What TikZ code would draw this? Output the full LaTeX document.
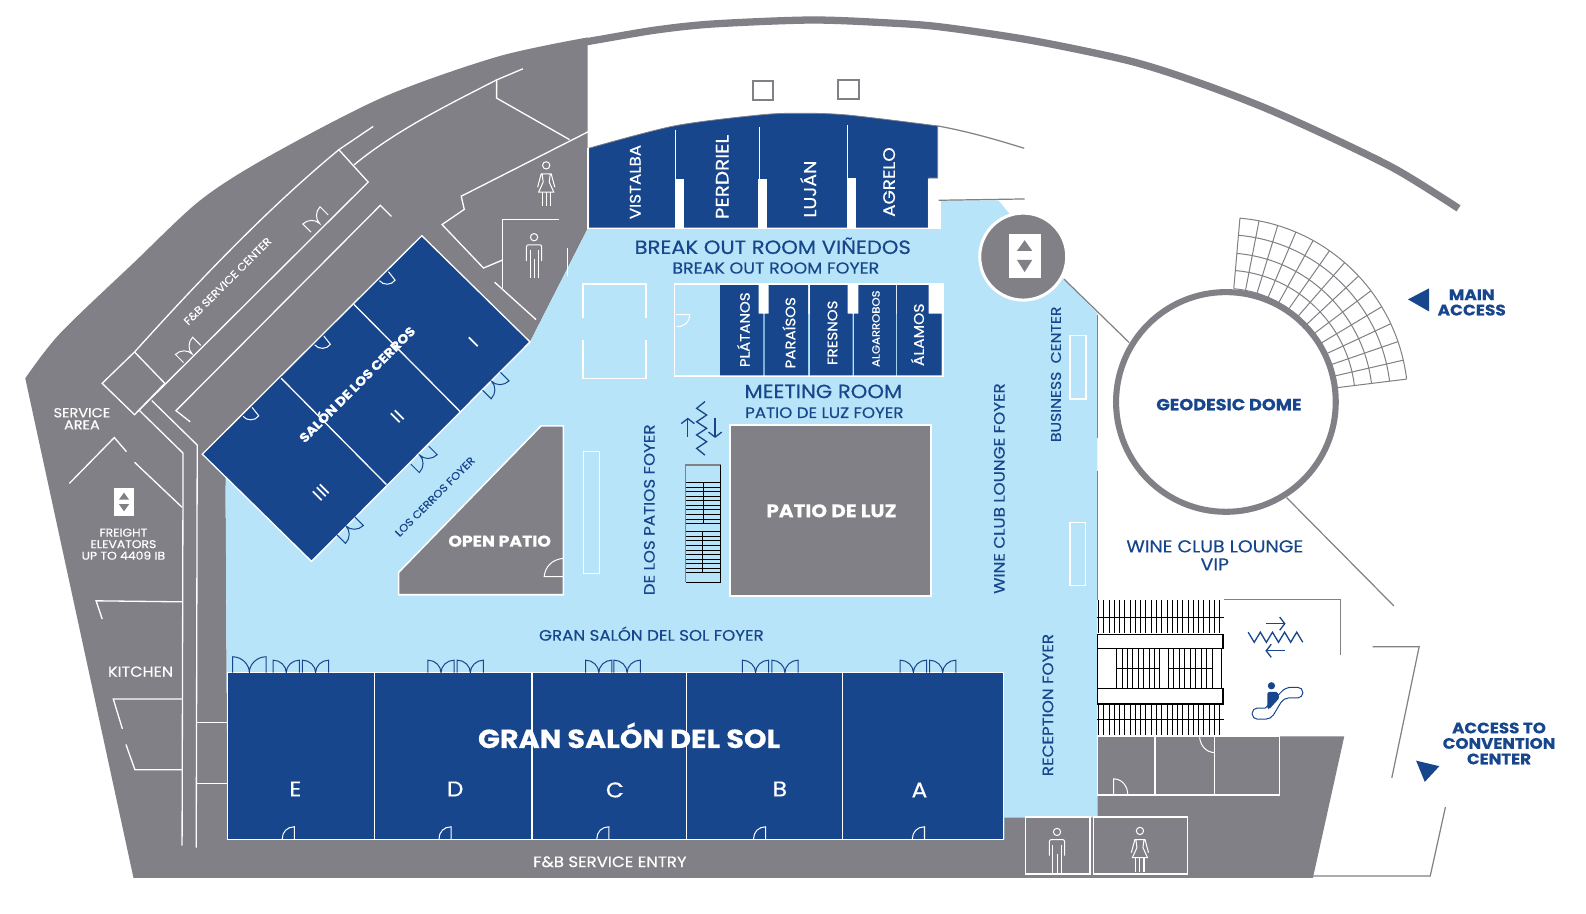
\documentclass[tikz,border=0pt]{standalone}
\usepackage{fontspec}
\setmainfont[FakeStretch=1.1,BoldFeatures={FakeBold=0.5}]{Poppins}
\newfontfamily\medfont[FakeStretch=1.1,FakeBold=0.45]{Poppins}
\newcommand{\medsize}[2][1.05]{\medfont\fontsize{#2}{#1\dimexpr#2pt\relax}\selectfont}
\newcommand{\heavysize}[2][1.05]{\bfseries\fontsize{#2}{#1\dimexpr#2pt\relax}\selectfont}
\usetikzlibrary{arrows.meta}
\definecolor{wallgray}{HTML}{808086}
\definecolor{roomblue}{HTML}{17468C}
\definecolor{foyerblue}{HTML}{B8E4F9}
\tikzset{
  wall/.style={draw=white,line width=1.3pt},
  gline/.style={draw=wallgray,line width=1.2pt},
  room/.style={fill=roomblue},
  rlabel/.style={text=white,font=\medsize{15},rotate=90,inner sep=0pt},
  flabel/.style={text=roomblue,font=\medsize{15},inner sep=0pt,align=center},
  wlabel/.style={text=white,font=\medsize{13},inner sep=0pt,align=center},
  hlabel/.style={text=white,font=\heavysize{15.5},inner sep=0pt,align=center},
  dlabel/.style={text=roomblue,font=\heavysize{15.5},inner sep=0pt,align=center},
  wing/.style={text=white,font=\fontsize{18}{18}\selectfont,rotate=45,inner sep=0pt},
  stairline/.style={draw=black,line width=0.9pt},
  pics/doubledoor/.style={code={
    \draw[pic actions] (-#1,0) -- (-#1,-0.95*#1) .. controls (-0.45*#1,-0.95*#1) and (0,-0.5*#1) .. (0,0)
      .. controls (0,-0.5*#1) and (0.45*#1,-0.95*#1) .. (#1,-0.95*#1) -- (#1,0);}},
  pics/floordoor/.style={code={
    \draw[wall,line width=1pt] (0,0) -- (0,-12) .. controls (-7,-12) and (-12,-7) .. (-12,0);}},
  pics/manicon/.style={code={
    \draw[wall,line width=1pt] (0,-18.5) circle (3.6);
    \draw[wall,line width=1pt,rounded corners=2] (-7.5,5) -- (-7.5,-11) -- (7.5,-11) -- (7.5,5);
    \draw[wall,line width=1pt] (-4,-6) -- (-4,22) (0,3) -- (0,22) (4,-6) -- (4,22);}},
  pics/womanicon/.style={code={
    \draw[wall,line width=1pt] (0,-18.5) circle (3.6);
    \draw[wall,line width=1pt] (-8.5,3) -- (-5,-10) -- (5,-10) -- (8.5,3) (-4,-10) -- (-3,-2) -- (-7.5,8) -- (7.5,8) -- (3,-2) -- (4,-10);
    \draw[wall,line width=1pt] (-4,8) -- (-4,22) (0,8) -- (0,22) (4,8) -- (4,22);}}
}
\begin{document}
\begin{tikzpicture}[x=1pt,y=-1pt]
\useasboundingbox (0,0) rectangle (1568,903.6);
% building
\fill[wallgray] (25,374) plot[smooth] coordinates {(25,374) (59,330) (132,260) (198,198) (265,155) (379,96) (492,56) (581,37)}
  -- (581,226) -- (524,338) -- (223,480) -- (225,830) -- (993,808) -- (1085,808) -- (1085,728)
  -- (1329,728) -- (1298,868) -- (132,868) -- cycle;
\draw[wallgray,line width=7.2pt] plot[smooth] coordinates {(576,42) (593,39) (649,29.6) (705,23.7) (801,19.8) (873,22.4) (929,26.5) (1020,40) (1117,60.3) (1183,81) (1249,106) (1315,135.5) (1381,168) (1442,206)};
% foyers
\fill[foyerblue] (581,226) -- (930,226) -- (930,198) -- (987,198) -- (1052,276) -- (1085,310) -- (1085,808)
  -- (993,808) -- (993,830) -- (225,830) -- (223,470) -- (300,500) -- (524,338) -- cycle;
% service walls
\draw[wall] (517,68) -- (491,79) .. controls (440,105) and (390,130) .. (350,163);
\draw[wall] (491,79) -- (491,97) -- (563,138);
\draw[wall] (582,130) -- (456,194) -- (459,207) -- (437,222) -- (478,265) -- (497,257);
\draw[wall] (553,217) -- (497,217) -- (497,285);
\draw[wall] (489,279) -- (530,316);
\draw[wall] (561,245) -- (561,273);
\draw[wall] (369,125) -- (335,148) -- (364,180) -- (136,407);
\draw[wall] (335,148) .. controls (260,210) and (190,285) .. (133,348) -- (101,379) -- (133,410) -- (163,379);
\draw[wall] (133,348) -- (163,379);
\draw[wall] (387,214) -- (376,203) -- (174,406) -- (188,417);
\draw[wall] (150,396) -- (195,440) -- (194,838);
\draw[wall] (138,406) -- (181,448) -- (180,836);
\draw[wall] (68.5,478) -- (113,432.6) -- (125,446.5);
\draw[wall] (133,457) -- (180,501.5);
\draw[wall] (101,612) -- (95,594) -- (180,595);
\draw[wall] (121,720.6) -- (112,691) -- (180,691);
\draw[wall] (124.5,736) -- (133.4,761) -- (180,761);
\draw[wall] (194.4,714) -- (225,714);
\draw[wall] (194.4,774.3) -- (225,774.3);
\pic[draw=white,line width=1pt,rotate=45] at (316,221) {doubledoor=12};
\pic[draw=white,line width=1pt,rotate=45] at (190,350) {doubledoor=12};
% freight elevator
\fill[white] (112.7,482.7) rectangle (132.8,510);
\fill[wallgray] (122.6,487) -- (127.6,494) -- (117.6,494) -- cycle;
\fill[wallgray] (122.6,505.5) -- (127.6,498.5) -- (117.6,498.5) -- cycle;
% salon de los cerros
\filldraw[room,wall] (417,233) -- (524,338) -- (308,555) -- (200,449) -- cycle;
\draw[wall] (350,301) -- (455,407);
\draw[wall] (278,374) -- (382,479);
\foreach \hx/\hy in {384/268.6,320/332,249.2/402.7}
  \draw[wall,line width=1pt] (\hx,\hy) -- ++(6.6,8.4) to[bend left=55] ++(-15.5,0.5);
\pic[draw=roomblue,line width=1pt,rotate=-135] at (486,377) {doubledoor=12.5};
\pic[draw=roomblue,line width=1pt,rotate=-135] at (415,450) {doubledoor=12.5};
\pic[draw=roomblue,line width=1pt,rotate=-135] at (342,520) {doubledoor=12.5};
% break out rooms
\filldraw[room,draw=wallgray,line width=0.8pt] (582,146.6) plot[smooth] coordinates {(582,146.6) (666.7,124.5) (750.8,113.7) (790,112) (837.8,113.7) (927,124.5)}
  -- (927,176) -- (917.7,176) -- (917.7,225) -- (582,225) -- cycle;
\fill[white] (917.7,176.5) rectangle (928,226);
\draw[white,line width=1.5pt] (581.5,146) -- (581.5,226) -- (930,226) -- (930,198);
\fill[white] (667,176.6) rectangle (676.5,226);
\fill[white] (749.6,176.6) rectangle (758.5,226);
\fill[white] (837,175.6) rectangle (846,226);
\draw[white,line width=1.2pt] (667.5,128.5) -- (667.5,178);
\draw[white,line width=1.2pt] (750.5,126) -- (750.5,178);
\draw[white,line width=1.2pt] (837.5,123.6) -- (837.5,178);
\draw[gline] (927,124.5) .. controls (957,130) and (985,138) .. (1012.6,146.6);
\draw[gline] (928,198) -- (1013,196.7);
\draw[wallgray,line width=2pt] (744,80) rectangle (764.5,99);
\draw[wallgray,line width=2pt] (828.4,79) rectangle (849,98);
% meeting rooms
\draw[white,line width=1.5pt] (666.6,280.7) rectangle (932.5,371.5);
\fill[white] (712,282) rectangle (932,310);
\fill[room] (712,282) -- (750,282) -- (750,310) -- (754.6,310) -- (754.6,371) -- (712,371) -- cycle;
\fill[room] (760,282) -- (799,282) -- (799,371) -- (756,371) -- (756,310) -- (760,310) -- cycle;
\fill[room] (801,282) -- (838,282) -- (838,310) -- (843,310) -- (843,371) -- (801,371) -- cycle;
\fill[room] (848.5,282) -- (886,282) -- (886,371) -- (844.5,371) -- (844.5,310) -- (848.5,310) -- cycle;
\fill[room] (887,282) -- (918,282) -- (918,310) -- (931,310) -- (931,371) -- (887,371) -- cycle;
\draw[white,line width=1pt] (669,323) .. controls (677,323) and (682,318) .. (682,311) -- (668,311);
\draw[white,line width=1.5pt] (576.5,314.7) -- (576.5,280.7) -- (638.6,280.7) -- (638.6,314.7);
\draw[white,line width=1.5pt] (576.5,336) -- (576.5,374) -- (638.6,374) -- (638.6,336);
% patios
\filldraw[wallgray,draw=white,line width=1.5pt] (535,421) -- (557,421) -- (557,588) -- (394,588) -- (394,566) -- cycle;
\draw[white,line width=1pt] (557,570) -- (538,570) .. controls (539,560) and (546,553) .. (557,552);
\filldraw[wallgray,draw=white,line width=2pt] (721.6,420) rectangle (920.5,589);
\draw[white,line width=1.5pt] (576.7,446.5) rectangle (592.5,567);
\draw[white,line width=1.5pt] (1058,331.8) rectangle (1073.6,394.7);
\draw[white,line width=1.5pt] (1057.8,516.7) rectangle (1073,579);
% center stairs
\draw[wallgray,line width=1.2pt] (678,575.7) -- (678,459.7) -- (712.4,459.7);
\draw[stairline] (712.4,459.7) -- (712.4,575.7) -- (678,575.7);
\foreach \sy in {0,1,...,9} {
  \draw[stairline,line width=0.6pt] (678,477+\sy*4.5) -- (712.4,477+\sy*4.5);
  \draw[stairline,line width=0.6pt] (678,525.6+\sy*4.5) -- (712.4,525.6+\sy*4.5);
}
\draw[stairline] (695.6,477) -- (695.6,517.4);
\draw[stairline] (694.6,525.6) -- (694.6,566);
\draw[roomblue,line width=1.3pt] (697,397) -- (688.7,403.7) -- (698.6,410.3) -- (688.7,417) -- (698.6,423.5) -- (688.7,430) -- (698.6,436.7) -- (688.7,443.3) -- (697,450);
\draw[roomblue,line width=1.3pt,-{Straight Barb[length=5pt,width=13pt]}] (680,432) -- (680,413);
\draw[roomblue,line width=1.3pt,-{Straight Barb[length=5pt,width=13pt]}] (707,413) -- (707,433);
% lobby stairs
\foreach \sx in {0,1,...,23} {
  \draw[stairline,line width=0.7pt] (1086+\sx*5.2,593) -- (1086+\sx*5.2,626);
  \draw[stairline,line width=0.7pt] (1086+\sx*5.2,696) -- (1086+\sx*5.2,727);
}
\foreach \sx in {0,1,...,8} {
  \draw[stairline,line width=0.7pt] (1104+\sx*5.3,642) -- (1104+\sx*5.3,681);
  \draw[stairline,line width=0.7pt] (1155+\sx*5.4,642) -- (1155+\sx*5.4,681);
}
\draw[stairline] (1085,610) -- (1210,610);
\draw[stairline] (1085,711.6) -- (1210,711.6);
\draw[stairline] (1104,661) -- (1146.4,661);
\draw[stairline] (1155,661) -- (1198.5,661);
\draw[stairline,line width=1.2pt] (1085,627) rectangle (1209,641.5);
\draw[stairline,line width=1.2pt] (1085,681) rectangle (1209,696);
\draw[stairline] (1085,641.5) -- (1085,681);
\draw[stairline] (1208,641.5) -- (1208,681);
\draw[roomblue,line width=1.3pt] (1234,625) -- (1240,635) -- (1246,625) -- (1252,635) -- (1258,625) -- (1264,635) -- (1270,625) -- (1276,635) -- (1282,625) -- (1288,635);
\draw[roomblue,line width=1.3pt,-{Straight Barb[length=5pt,width=13pt]}] (1252,616.6) -- (1271,616.6);
\draw[roomblue,line width=1.3pt,-{Straight Barb[length=5pt,width=13pt]}] (1270,643.4) -- (1251,643.4);
\draw[roomblue,line width=1pt,rounded corners=5] (1251,700) -- (1238,700) -- (1238,711) -- (1256.5,711) -- (1269,690) -- (1288,690) -- (1288,679.5) -- (1271.3,679.5) -- (1251,700);
\fill[roomblue] (1257,678) circle (3.6);
\fill[roomblue,rounded corners=1.5] (1253,684) -- (1263,684) -- (1265,690) -- (1255,701) -- (1253,701) -- cycle;
% gran salon
\filldraw[room,wall] (225,665) rectangle (992,830);
\foreach \wx in {370,526,679,833}
  \draw[wall] (\wx,665) -- (\wx,830);
\foreach \dx in {291,446,602,757,914}
  \pic at (\dx,829.4) {floordoor};
\pic[draw=roomblue,line width=1pt] at (246.5,665) {doubledoor=16.5};
\foreach \dx in {283,312,436,465,592,620,747,776,903,932}
  \pic[draw=roomblue,line width=1pt] at (\dx,665) {doubledoor=13};
% reception rooms
\draw[wall] (1085,728) -- (1085,786) -- (1265,786) -- (1265,728) -- (1085,728);
\draw[wall] (1142,728) -- (1142,786);
\draw[wall] (1201,728) -- (1201,786);
\draw[wall,line width=1pt] (1101,786) -- (1101,770) .. controls (1109,770) and (1115,777) .. (1115,786) -- cycle;
\draw[wall,line width=1pt] (1186,729) .. controls (1187,738) and (1193,744) .. (1201,744);
\draw[wall] (1013.6,807.6) rectangle (1077.7,864);
\draw[wall] (1081,807.6) rectangle (1174,864);
\pic at (1045,841) {manicon};
\pic at (1127,840) {womanicon};
\pic at (528,253) {manicon};
\pic at (540,182) {womanicon};
% dome
\draw[gline] (1052,276) -- (1116.4,338.7);
\draw[gline] (1272,492) -- (1378,599);
\draw[gline] (1085,311) -- (1085,433);
\draw[gline] (1085,466) -- (1085,593);
\draw[wallgray,line width=1.2pt] (1210,593) -- (1325,593) -- (1325,648);
\draw[gline] (1357,639.5) -- (1403,639.5) -- (1376,769);
\draw[gline] (1429,798) -- (1414,866) -- (1298,866);
\foreach \fr in {112,130,147,165,182}
  \draw[gline,line width=1pt] (1210,397) ++(-7:\fr) arc (-7:-85:\fr);
\foreach \fa in {7,13,...,85}
  \draw[gline,line width=1pt] (1210,397) ++(-\fa:112) -- ++(-\fa:70);
\draw[wallgray,line width=6pt] (1212,397.4) circle (108.6);
% elevator
\filldraw[wallgray,draw=white,line width=3pt] (1011.6,253.7) circle (43);
\fill[white] (998,231) rectangle (1029,274.5);
\fill[wallgray] (1013,237.5) -- (1020.5,248) -- (1005.5,248) -- cycle;
\fill[wallgray] (1013,269) -- (1020.5,257) -- (1005.5,257) -- cycle;
% access marks
\fill[roomblue] (1392,296) -- (1413,285) -- (1413,308) -- cycle;
\fill[roomblue] (1400,752) -- (1423,757.5) -- (1408.6,773) -- cycle;
% labels
\node[rlabel] (vistalba) at (628,180) {VISTALBA};
\node[rlabel,font=\medsize{18}] (perdriel) at (714,175) {PERDRIEL};
\node[rlabel,font=\medsize{17}] (lujan) at (799,187) {LUJÁN};
\node[rlabel,font=\medsize{16.5}] (agrelo) at (879,180) {AGRELO};
\node[rlabel,font=\medsize{13.5}] (platanos) at (735,326) {PLÁTANOS};
\node[rlabel,font=\medsize{13.5}] (paraisos) at (780,329) {PARAÍSOS};
\node[rlabel,font=\medsize{13.5}] (fresnos) at (823,329) {FRESNOS};
\node[rlabel,font=\medsize{10.5}] (algarrobos) at (866,325) {ALGARROBOS};
\node[rlabel,font=\medsize{14}] (alamos) at (907,331) {ÁLAMOS};
\node[flabel,font=\medsize{19}] (vinedos) at (764,243) {BREAK OUT ROOM VIÑEDOS};
\node[flabel,font=\medsize{15.7}] (breakfoyer) at (767,265) {BREAK OUT ROOM FOYER};
\node[flabel,font=\medsize{19}] (meeting) at (814,387) {MEETING ROOM};
\node[flabel] (luzfoyer) at (815,408) {PATIO DE LUZ FOYER};
\node[hlabel,font=\heavysize{18}] (patioluz) at (822,505) {PATIO DE LUZ};
\node[hlabel] (openpatio) at (494,535) {OPEN PATIO};
\node[flabel] (solfoyer) at (644,626.5) {GRAN SALÓN DEL SOL FOYER};
\node[hlabel,font=\heavysize{25.8}] (gransalon) at (622,727) {GRAN SALÓN DEL SOL};
\node[hlabel,font=\medsize{21}] (roome) at (292,780) {E};
\node[hlabel,font=\medsize{21}] (roomd) at (450,780) {D};
\node[hlabel,font=\medsize{21}] (roomc) at (608,781) {C};
\node[hlabel,font=\medsize{21}] (roomb) at (771,780) {B};
\node[hlabel,font=\medsize{21}] (rooma) at (909,781) {A};
\node[wlabel,font=\medsize{14.9}] (fbentry) at (603,852) {F\&B SERVICE ENTRY};
\node[flabel,rotate=90] (reception) at (1036,697) {RECEPTION FOYER};
\node[flabel,rotate=90] (wineclub) at (988,483) {WINE CLUB LOUNGE FOYER};
\node[flabel,rotate=90,font=\medsize{14}] (business) at (1044,370) {BUSINESS\ \ CENTER};
\node[flabel,rotate=90] (lospatios) at (642,504) {DE LOS PATIOS FOYER};
\node[dlabel,font=\heavysize{15.9}] (geodesic) at (1215,400) {GEODESIC DOME};
\node[flabel,font=\medsize{17}] (winevip) at (1201,549) {WINE CLUB LOUNGE\\VIP};
\node[dlabel,font={\heavysize[1]{15.2}}] (mainaccess) at (1455,299) {MAIN\\ACCESS};
\node[dlabel,font={\heavysize[1.02]{15}}] (convention) at (1482,735) {ACCESS TO\\CONVENTION\\CENTER};
\node[wlabel,font={\medsize[0.92]{13}}] (servicearea) at (81,414) {SERVICE\\AREA};
\node[wlabel,font={\medsize[1.03]{11.1}}] (freight) at (122,538) {FREIGHT\\ELEVATORS\\UP TO 4409 IB};
\node[wlabel,font=\medsize{14.4}] (kitchen) at (139,664) {KITCHEN};
\node[wlabel,rotate=45,font=\medsize{10.7}] (fbcenter) at (225,278) {F\&B SERVICE CENTER};
\node[flabel,rotate=45,font=\medsize{10.5}] (cerrosfoyer) at (430,491) {LOS CERROS FOYER};
\node[hlabel,rotate=45,font=\heavysize{12.7}] (cerros) at (352,379) {SALÓN DE LOS CERROS};
\node[wing] (wingone) at (468,338) {I};
\node[wing] (wingtwo) at (393,412) {II};
\node[wing] (wingthree) at (318,487) {III};
\end{tikzpicture}
\end{document}
